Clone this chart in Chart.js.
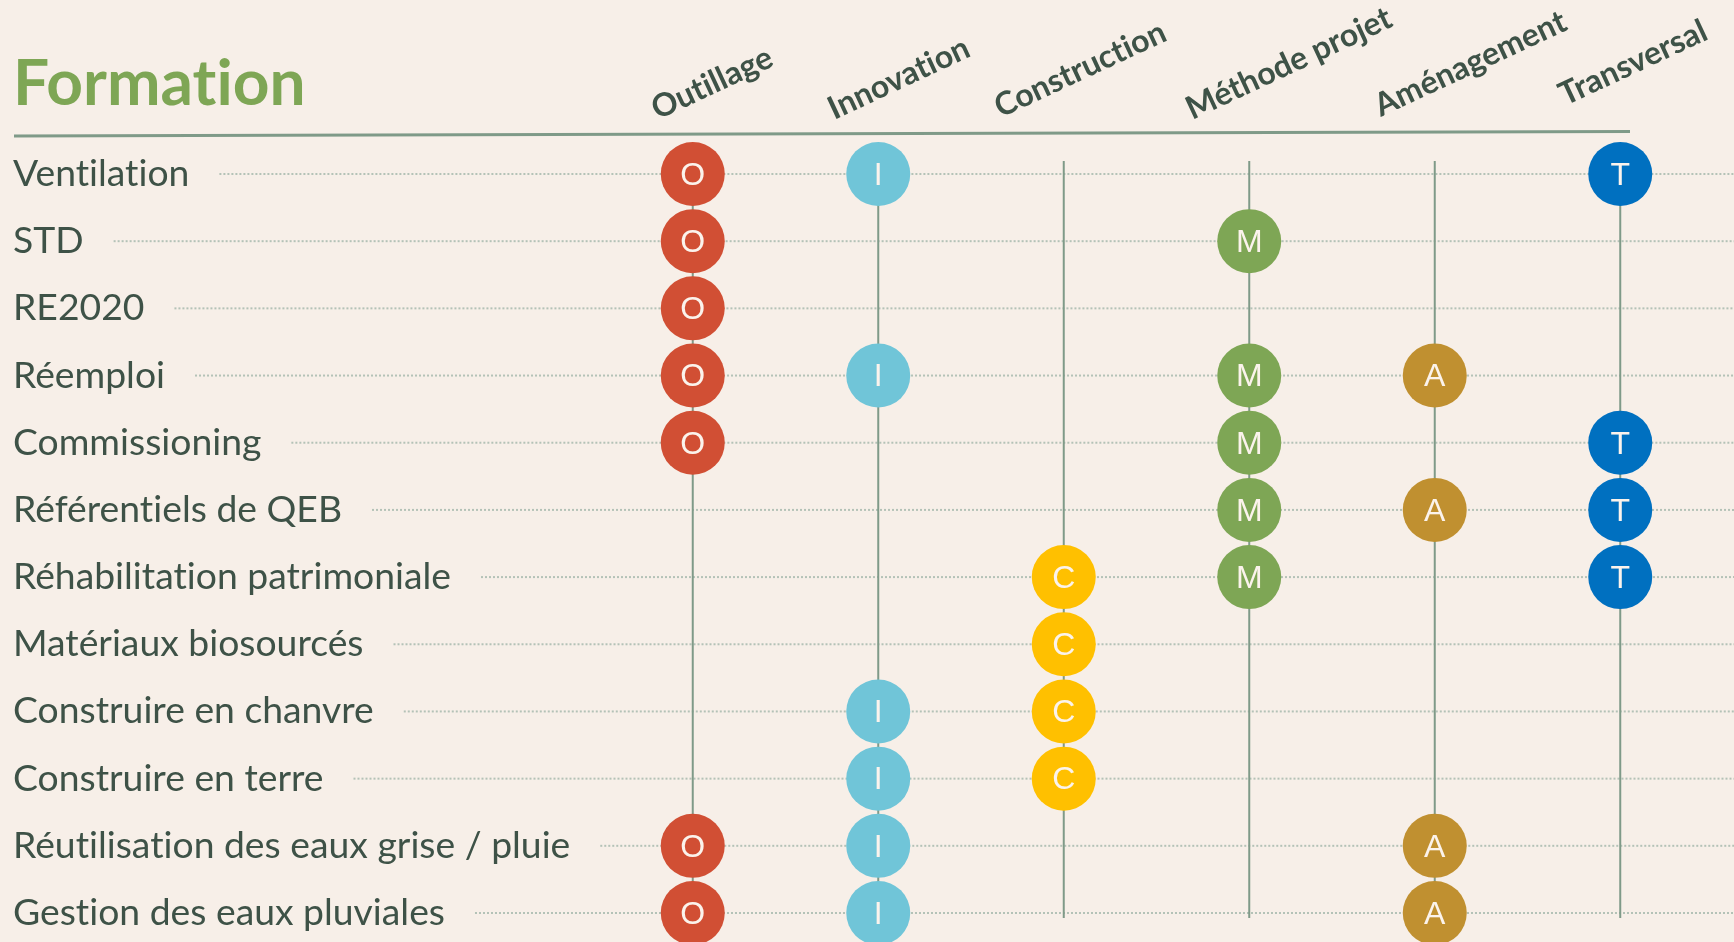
<!DOCTYPE html>
<html><head><meta charset="utf-8">
<script src="https://cdn.jsdelivr.net/npm/chart.js@4.4.1/dist/chart.umd.min.js"></script>
<style>html,body{margin:0;padding:0;background:#f7efe8;overflow:hidden}#wrap{width:1734px;height:942px}</style>
</head><body><div id="wrap"><canvas id="c" width="1734" height="942"></canvas></div>
<script>
// ---- data ----
const title = 'Formation';
const rows = ['Ventilation','STD','RE2020','Réemploi','Commissioning','Référentiels de QEB','Réhabilitation patrimoniale','Matériaux biosourcés','Construire en chanvre','Construire en terre','Réutilisation des eaux grise / pluie','Gestion des eaux pluviales'];
const columns = ['Outillage','Innovation','Construction','Méthode projet','Aménagement','Transversal'];
const letters = ['O','I','C','M','A','T'];
const outillage = ['Ventilation','STD','RE2020','Réemploi','Commissioning','Réutilisation des eaux grise / pluie','Gestion des eaux pluviales'];
const innovation = ['Ventilation','Réemploi','Construire en chanvre','Construire en terre','Réutilisation des eaux grise / pluie','Gestion des eaux pluviales'];
const construction = ['Réhabilitation patrimoniale','Matériaux biosourcés','Construire en chanvre','Construire en terre'];
const methodeProjet = ['STD','Réemploi','Commissioning','Référentiels de QEB','Réhabilitation patrimoniale'];
const amenagement = ['Réemploi','Référentiels de QEB','Réutilisation des eaux grise / pluie','Gestion des eaux pluviales'];
const transversal = ['Ventilation','Commissioning','Référentiels de QEB','Réhabilitation patrimoniale'];
const members = [outillage, innovation, construction, methodeProjet, amenagement, transversal];

// ---- styles ----
const colors = ['#d14f34','#70c5d8','#ffc000','#7ea655','#c09030','#0070c0'];
const textColor = '#3e5247';
const lineColor = '#7f9a88';
const rowFont = '37.3px Lato';
const headFont = 'bold 32px Lato';
const headShift = [-35,-44,-63,-57,-54,-55];
const headBase = [120,120,118,120,117,106];

const deco = {
  id: 'deco',
  beforeDraw(chart) {
    chart.ctx.textRendering = 'optimizeSpeed';
  },
  beforeDatasetsDraw(chart) {
    const ctx = chart.ctx, xs = chart.scales.x, ys = chart.scales.y;
    ctx.save();
    ctx.font = rowFont;
    ctx.strokeStyle = '#b4c2b7';
    ctx.lineWidth = 2;
    ctx.setLineDash([2, 2]);
    rows.forEach((r, i) => {
      const y = ys.getPixelForValue(i);
      const x0 = ys.left + ctx.measureText(r).width + 30;
      ctx.beginPath(); ctx.moveTo(x0, y); ctx.lineTo(chart.width, y); ctx.stroke();
    });
    ctx.setLineDash([]);
    ctx.strokeStyle = lineColor;
    ctx.lineWidth = 2;
    columns.forEach((c, i) => {
      const x = xs.getPixelForValue(i);
      ctx.beginPath();
      ctx.moveTo(x, ys.getPixelForValue(0) - 13);
      ctx.lineTo(x, ys.getPixelForValue(rows.length - 1) + 5);
      ctx.stroke();
    });
    ctx.restore();
  },
  afterDatasetsDraw(chart) {
    const ctx = chart.ctx;
    ctx.save();
    ctx.font = '32px "Liberation Sans", Arial, sans-serif';
    ctx.fillStyle = '#fbf3ec';
    ctx.textAlign = 'center';
    ctx.textBaseline = 'middle';
    chart.data.datasets.forEach((ds, di) => {
      chart.getDatasetMeta(di).data.forEach(el => {
        ctx.fillText(ds.letter, el.x, el.y + 2);
      });
    });
    ctx.restore();
  },
  afterDraw(chart) {
    const ctx = chart.ctx, xs = chart.scales.x;
    ctx.save();
    ctx.fillStyle = '#7ea655';
    ctx.font = 'bold 64px Lato';
    ctx.textBaseline = 'alphabetic';
    ctx.fillText(title, 13, 105);
    ctx.strokeStyle = lineColor;
    ctx.lineWidth = 3;
    ctx.beginPath(); ctx.moveTo(14, 136); ctx.lineTo(1630, 131.5); ctx.stroke();
    ctx.fillStyle = textColor;
    ctx.font = headFont;
    columns.forEach((c, i) => {
      const x = xs.getPixelForValue(i) + headShift[i];
      ctx.save();
      ctx.translate(x, headBase[i]);
      ctx.rotate(-25 * Math.PI / 180);
      ctx.textAlign = 'left';
      ctx.fillText(c, 0, 0);
      ctx.restore();
    });
    ctx.restore();
  }
};

function build() {
  new Chart(document.getElementById('c'), {
    type: 'scatter',
    data: {
      datasets: columns.map((c, i) => ({
        label: c,
        letter: letters[i],
        data: members[i].map(r => ({ x: c, y: r })),
        backgroundColor: colors[i],
        borderWidth: 0,
        pointRadius: 32,
        pointHoverRadius: 32,
        clip: false
      }))
    },
    options: {
      responsive: false,
      devicePixelRatio: 1,
      animation: false,
      events: [],
      layout: { autoPadding: false, padding: { left: 13, right: 21, top: 174, bottom: 29 } },
      plugins: { legend: { display: false }, tooltip: { enabled: false } },
      scales: {
        x: { type: 'category', labels: columns, offset: true, display: false },
        y: {
          type: 'category', labels: rows, offset: false,
          grid: { display: false }, border: { display: false },
          afterFit(s) { s.width = 587; },
          ticks: { autoSkip: false, crossAlign: 'far', color: textColor, font: { family: 'Lato', size: 37.3 }, padding: 0 }
        }
      }
    },
    plugins: [deco]
  });
}
Promise.all([
  document.fonts.load('37px Lato'),
  document.fonts.load('bold 32px Lato'),
  document.fonts.load('32px "Liberation Sans"')
]).then(build, build);
</script></body></html>
